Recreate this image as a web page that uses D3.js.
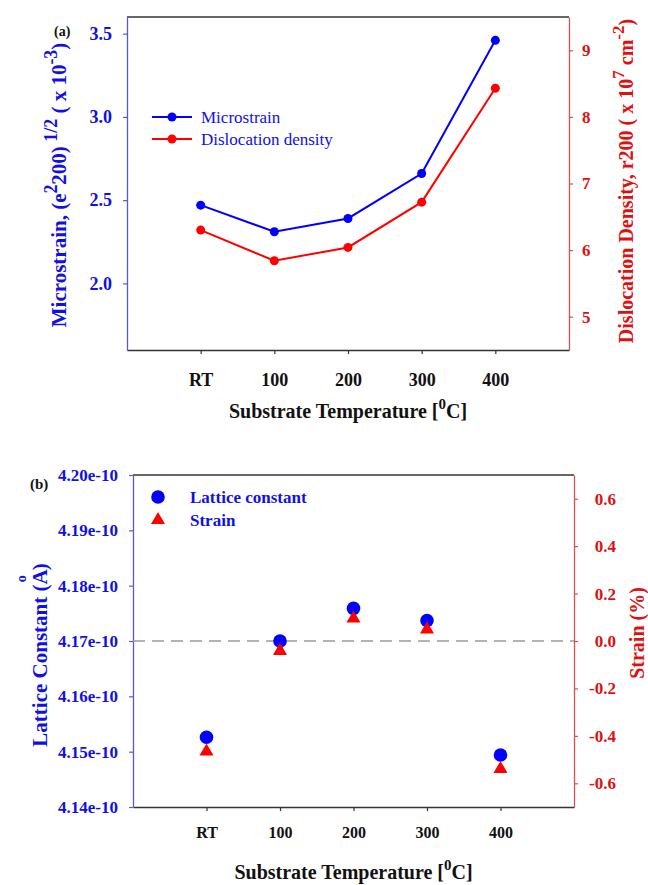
<!DOCTYPE html>
<html>
<head>
<meta charset="utf-8">
<script src="https://cdn.jsdelivr.net/npm/d3@7"></script>
<style>
  body { margin: 0; background: #fff; }
  text { font-family: "Liberation Serif", "Times New Roman", serif; }
</style>
</head>
<body>
<svg id="chart" width="648" height="885"></svg>
<script>
// data
const temps = ["RT", "100", "200", "300", "400"];
const microstrain = [2.47, 2.31, 2.39, 2.66, 3.46];
const dislocation = [6.30, 5.84, 6.04, 6.72, 8.43];
const latticeConst = [4.1526e-10, 4.1700e-10, 4.1759e-10, 4.1737e-10, 4.1494e-10];
const strain = [-0.466, -0.042, 0.095, 0.049, -0.540];

const msTicks = [2.0, 2.5, 3.0, 3.5];
const ddTicks = [5, 6, 7, 8, 9];
const lcTicks = [4.14e-10, 4.15e-10, 4.16e-10, 4.17e-10, 4.18e-10, 4.19e-10, 4.20e-10];
const stTicks = [-0.6, -0.4, -0.2, 0.0, 0.2, 0.4, 0.6];

const BLUE = "#0000ff", RED = "#ff0000";
const BLUE_TXT = "#1010e6", RED_TXT = "#e01010";
const BLUE_AX = "#5a5ad0", RED_AX = "#d85050";

const svg = d3.select("#chart");

// text with superscripts, parts = [[str, isSup], ...], centred on x=0 by hand
const richText = (sel, parts, size, ratio) => {
  let up = false;
  parts.forEach(p => {
    const t = sel.append("tspan").text(p[0]).attr("font-size", p[1] ? size * ratio : size);
    if (p[1] && !up) t.attr("dy", -size * 0.45);
    if (!p[1] && up) t.attr("dy", size * 0.45);
    up = p[1];
  });
  const len = sel.node().getComputedTextLength();
  sel.attr("text-anchor", "start").attr("x", -len / 2);
  return sel;
};

const styleAxis = (g, lineColor, textColor, size) => {
  g.select(".domain").attr("stroke", lineColor).attr("stroke-width", 1.3);
  g.selectAll(".tick line").attr("stroke", lineColor).attr("stroke-width", 1.2);
  g.selectAll(".tick text").attr("fill", textColor).attr("font-size", size)
    .attr("font-weight", "bold").attr("font-family", "Liberation Serif, serif");
};

// ---------- panel (a) ----------
const A = {left: 127, right: 569, top: 17, bottom: 350};
const xA = d3.scaleLinear().domain([-1, 5]).range([A.left, A.right]);
const yMs = d3.scaleLinear().domain([1.6, 3.6]).range([A.bottom, A.top]);
const yDd = d3.scaleLinear().domain([4.5, 9.5]).range([A.bottom, A.top]);

svg.append("line").attr("x1", A.left).attr("x2", A.right).attr("y1", A.top).attr("y2", A.top)
  .attr("stroke", "#333").attr("stroke-width", 1.3);

const gxA = svg.append("g").attr("transform", `translate(0,${A.bottom})`)
  .call(d3.axisBottom(xA).tickValues([0, 1, 2, 3, 4]).tickFormat(i => temps[i])
    .tickSize(4).tickSizeOuter(0).tickPadding(19));
styleAxis(gxA, "#333", "#111", 18);

const gyA = svg.append("g").attr("transform", `translate(${A.left},0)`)
  .call(d3.axisLeft(yMs).tickValues(msTicks).tickFormat(d => d.toFixed(1))
    .tickSize(4).tickSizeOuter(0).tickPadding(11));
styleAxis(gyA, BLUE_AX, BLUE_TXT, 18);

const gy2A = svg.append("g").attr("transform", `translate(${A.right},0)`)
  .call(d3.axisRight(yDd).tickValues(ddTicks).tickFormat(d => String(d))
    .tickSize(4).tickSizeOuter(0).tickPadding(9));
styleAxis(gy2A, RED_AX, RED_TXT, 17);

const lineMs = d3.line().x((d, i) => xA(i)).y(d => yMs(d));
const lineDd = d3.line().x((d, i) => xA(i)).y(d => yDd(d));

svg.append("path").datum(microstrain).attr("d", lineMs)
  .attr("fill", "none").attr("stroke", BLUE).attr("stroke-width", 2);
svg.append("path").datum(dislocation).attr("d", lineDd)
  .attr("fill", "none").attr("stroke", RED).attr("stroke-width", 2);

svg.append("g").selectAll("circle").data(microstrain).join("circle")
  .attr("cx", (d, i) => xA(i)).attr("cy", d => yMs(d)).attr("r", 4.5).attr("fill", BLUE);
svg.append("g").selectAll("circle").data(dislocation).join("circle")
  .attr("cx", (d, i) => xA(i)).attr("cy", d => yDd(d)).attr("r", 4.5).attr("fill", RED);

// legend (a)
const legA = [["Microstrain", BLUE, 117], ["Dislocation density", RED, 139]];
legA.forEach(l => {
  svg.append("line").attr("x1", 152).attr("x2", 192).attr("y1", l[2]).attr("y2", l[2])
    .attr("stroke", l[1]).attr("stroke-width", 2);
  svg.append("circle").attr("cx", 172).attr("cy", l[2]).attr("r", 4.5).attr("fill", l[1]);
  svg.append("text").attr("x", 201).attr("y", l[2]).attr("dy", "0.33em")
    .attr("font-size", 17).attr("fill", BLUE_TXT).text(l[0]);
});

svg.append("text").attr("x", 54).attr("y", 36).attr("font-size", 14).attr("font-weight", "bold")
  .attr("fill", "#111").text("(a)");

richText(svg.append("text").attr("transform", "translate(66,185) rotate(-90)")
  .attr("font-weight", "bold").attr("fill", BLUE_TXT),
  [["Microstrain, (e", false], ["2", true], ["200)", false], [" 1/2", true],
   [" ( x 10", false], ["-3", true], [")", false]], 21, 0.85);

richText(svg.append("text").attr("transform", "translate(633,181) rotate(-90)")
  .attr("font-weight", "bold").attr("fill", RED_TXT),
  [["Dislocation Density, r200 ( x 10", false], ["7", true], [" cm", false], ["-2", true], [")", false]], 20, 0.85);

richText(svg.append("text").attr("transform", `translate(${(A.left + A.right) / 2},418)`)
  .attr("font-weight", "bold").attr("fill", "#111"),
  [["Substrate Temperature [", false], ["0", true], ["C]", false]], 20, 0.75);

// ---------- panel (b) ----------
const B = {left: 133, right: 574, top: 475, bottom: 807};
const xB = d3.scaleLinear().domain([-1, 5]).range([B.left, B.right]);
const yLc = d3.scaleLinear().domain([4.14e-10, 4.20e-10]).range([B.bottom, B.top]);
const ySt = d3.scaleLinear().domain([-0.7, 0.7]).range([B.bottom, B.top]);

svg.append("line").attr("x1", B.left).attr("x2", B.right).attr("y1", B.top).attr("y2", B.top)
  .attr("stroke", "#333").attr("stroke-width", 1.3);

const gxB = svg.append("g").attr("transform", `translate(0,${B.bottom})`)
  .call(d3.axisBottom(xB).tickValues([0, 1, 2, 3, 4]).tickFormat(i => temps[i])
    .tickSize(4).tickSizeOuter(0).tickPadding(16));
styleAxis(gxB, "#333", "#111", 16);

const gyB = svg.append("g").attr("transform", `translate(${B.left},0)`)
  .call(d3.axisLeft(yLc).tickValues(lcTicks).tickFormat(d3.format(".2e"))
    .tickSize(4).tickSizeOuter(0).tickPadding(11));
styleAxis(gyB, BLUE_AX, BLUE_TXT, 17);

const gy2B = svg.append("g").attr("transform", `translate(${B.right},0)`)
  .call(d3.axisRight(ySt).tickValues(stTicks).tickFormat(d => d.toFixed(1))
    .tickSize(4).tickSizeOuter(0));
styleAxis(gy2B, RED_AX, RED_TXT, 17);
gy2B.selectAll(".tick text").attr("x", 42).attr("text-anchor", "end");

svg.append("line").attr("x1", B.left).attr("x2", B.right)
  .attr("y1", ySt(0)).attr("y2", ySt(0))
  .attr("stroke", "#9a9a9a").attr("stroke-width", 1.5).attr("stroke-dasharray", "12,7");

svg.append("g").selectAll("circle").data(latticeConst).join("circle")
  .attr("cx", (d, i) => xB(i)).attr("cy", d => yLc(d)).attr("r", 6.8).attr("fill", BLUE);

const tri = d3.symbol().type(d3.symbolTriangle).size(85);
svg.append("g").selectAll("path").data(strain).join("path")
  .attr("d", tri).attr("transform", (d, i) => `translate(${xB(i)},${ySt(d)})`).attr("fill", RED);

// legend (b)
svg.append("circle").attr("cx", 158).attr("cy", 497).attr("r", 6.8).attr("fill", BLUE);
svg.append("path").attr("d", tri).attr("transform", "translate(158,520)").attr("fill", RED);
[["Lattice constant", 497], ["Strain", 520]].forEach(l => {
  svg.append("text").attr("x", 190).attr("y", l[1]).attr("dy", "0.33em")
    .attr("font-size", 17).attr("font-weight", "bold").attr("fill", BLUE_TXT).text(l[0]);
});

svg.append("text").attr("x", 30).attr("y", 489).attr("font-size", 15).attr("font-weight", "bold")
  .attr("fill", "#111").text("(b)");

const lcLabel = svg.append("text").attr("transform", "translate(47,655) rotate(-90)")
  .attr("text-anchor", "middle").attr("font-weight", "bold").attr("fill", BLUE_TXT).attr("font-size", 21);
lcLabel.append("tspan").text("Lattice Constant (A");
lcLabel.append("tspan").text("o").attr("font-size", 14).attr("dx", -13).attr("dy", -21);
lcLabel.append("tspan").text(")").attr("dx", 5).attr("dy", 21);

svg.append("text").attr("transform", "translate(644,633) rotate(-90)")
  .attr("text-anchor", "middle").attr("font-weight", "bold").attr("fill", RED_TXT)
  .attr("font-size", 20).text("Strain (%)");

richText(svg.append("text").attr("transform", `translate(${(B.left + B.right) / 2},879)`)
  .attr("font-weight", "bold").attr("fill", "#111"),
  [["Substrate Temperature [", false], ["0", true], ["C]", false]], 20, 0.75);
</script>
</body>
</html>
